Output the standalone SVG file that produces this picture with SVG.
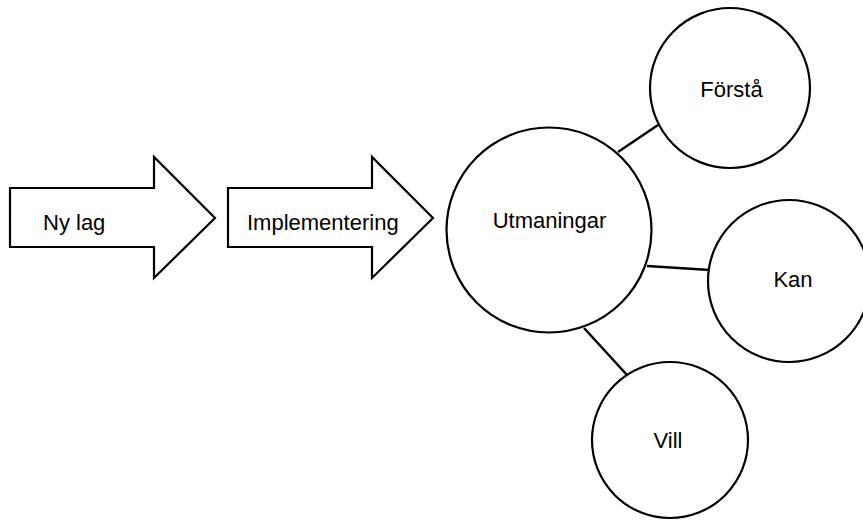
<svg xmlns="http://www.w3.org/2000/svg" width="863" height="520" viewBox="0 0 863 520">
<style>
.shape{fill:#fff;stroke:#000;stroke-width:2.2;stroke-linejoin:miter}
.lbl{font-family:"Liberation Sans",Arial,sans-serif;font-size:22px;fill:#000}
.c{text-anchor:middle}
.conn{stroke:#000;stroke-width:2.5;fill:none}
</style>
<rect width="863" height="520" fill="#fff"/>
<g id="connectors">
<line class="conn" x1="618" y1="152" x2="658" y2="125"/>
<line class="conn" x1="647" y1="266" x2="710" y2="270"/>
<line class="conn" x1="584" y1="328" x2="627" y2="375"/>
</g>
<g id="arrow-nylag">
<polygon class="shape" points="10,188 154,188 154,157 215,218 154,278 154,247 10,247"/>
<text class="lbl" x="43" y="230">Ny lag</text>
</g>
<g id="arrow-implementering">
<polygon class="shape" points="228,188 372,188 372,157 433,218 372,278 372,247 228,247"/>
<text class="lbl" x="247" y="230">Implementering</text>
</g>
<g id="node-utmaningar">
<circle class="shape" cx="549" cy="230" r="102.5"/>
<text class="lbl c" x="549.5" y="228">Utmaningar</text>
</g>
<g id="node-forsta">
<circle class="shape" cx="730" cy="88" r="80"/>
<text class="lbl c" x="731.5" y="97">Förstå</text>
</g>
<g id="node-kan">
<circle class="shape" cx="789" cy="281" r="81"/>
<text class="lbl c" x="793" y="287">Kan</text>
</g>
<g id="node-vill">
<circle class="shape" cx="670" cy="440" r="78"/>
<text class="lbl c" x="668" y="448">Vill</text>
</g>
</svg>
